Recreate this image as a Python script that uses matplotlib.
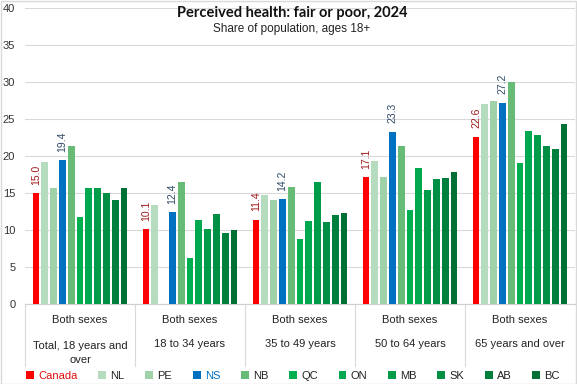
import numpy as np
import matplotlib
matplotlib.use("Agg")
import matplotlib.pyplot as plt
from matplotlib.patches import Rectangle

groups_top = ["Both sexes"] * 5
groups_age = ["Total, 18 years and\nover", "18 to 34 years", "35 to 49 years",
              "50 to 64 years", "65 years and over"]
series = ["Canada", "NL", "PE", "NS", "NB", "QC", "ON", "MB", "SK", "AB", "BC"]

canada = [15.0, 10.1, 11.4, 17.1, 22.6]
nl = [19.2, 13.4, 14.7, 19.3, 27.0]
pe = [15.7, np.nan, 14.1, 17.2, 27.4]
ns = [19.4, 12.4, 14.2, 23.3, 27.2]
nb = [21.4, 16.5, 15.8, 21.4, 30.0]
qc = [11.8, 6.2, 8.8, 12.7, 19.1]
on = [15.7, 11.4, 11.2, 18.4, 23.4]
mb = [15.7, 10.1, 16.5, 15.4, 22.8]
sk = [15.0, 12.2, 11.1, 16.9, 21.4]
ab = [14.1, 9.6, 12.0, 17.0, 21.0]
bc = [15.7, 10.0, 12.3, 17.8, 24.3]
values = [canada, nl, pe, ns, nb, qc, on, mb, sk, ab, bc]

colors = ["#FF0000", "#B5DCBF", "#9FD2A9", "#0070C0", "#66BB77", "#00B050",
          "#00A84F", "#009C4A", "#008F45", "#00803C", "#007034"]
labelled = {"Canada": "#A11B1B", "NS": "#2E4A66"}
legend_text_colors = {"Canada": "#E01010", "NS": "#0070C0"}

plt.rcParams['font.family'] = ['Liberation Sans', 'DejaVu Sans']

W, H = 577, 384
fig = plt.figure(figsize=(W / 100, H / 100), dpi=100)
ax = fig.add_axes([25 / W, (H - 304) / H, 550 / W, 296 / H])

n = len(series)
pitch = 0.08
bw = 0.061
xc = np.arange(len(groups_age)) + 0.5
for i, (name, vals, col) in enumerate(zip(series, values, colors)):
    xs = xc + (i - (n - 1) / 2) * pitch
    ax.bar(xs, vals, width=bw, color=col, label=name, zorder=3)
    if name in labelled:
        for x, v in zip(xs, vals):
            ax.annotate(f"{v:.1f}", (x, v), xytext=(0, 6), textcoords="offset points",
                        rotation=90, ha="center", va="bottom", fontsize=7.5,
                        color=labelled[name])

ax.set_xlim(0, len(groups_age))
ax.set_ylim(0, 40)
ax.set_yticks(range(0, 41, 5))
ax.tick_params(axis="y", length=0, pad=7, labelsize=8, colors="#333333")
ax.set_xticks([])
ax.yaxis.grid(True, color="#D9D9D9", linewidth=0.8, zorder=0)
for s in ["top", "right", "left"]:
    ax.spines[s].set_visible(False)
ax.spines["bottom"].set_color("#D0D0D0")

tr = ax.get_xaxis_transform()
for b in range(len(groups_age)):
    ax.plot([b, b], [0, -62 / 296], transform=tr, color="#D9D9D9", lw=0.8, clip_on=False)
for x, t, a in zip(xc, groups_top, groups_age):
    ax.text(x, -16 / 296, t, transform=tr, ha="center", va="center", fontsize=8, color="#222222")
    if "\n" in a:
        ax.text(x, -49 / 296, a, transform=tr, ha="center", va="center", fontsize=8,
                color="#222222", linespacing=1.6)
    else:
        ax.text(x, -40 / 296, a, transform=tr, ha="center", va="center", fontsize=8,
                color="#222222")

fig.text(0.506, 1 - 13 / H, "Perceived health: fair or poor, 2024", ha="center", va="center",
         fontsize=10.5, fontweight="bold", family=["Lato", "DejaVu Sans"],
         color="#111111")
fig.text(0.506, 1 - 29 / H, "Share of population, ages 18+", ha="center", va="center",
         fontsize=8.5, color="#222222")

leg = fig.legend(loc="center", bbox_to_anchor=(0.508, 1 - 376 / H), ncol=n, frameon=False,
                 fontsize=8, handlelength=0.7, handleheight=0.7, handletextpad=0.4,
                 columnspacing=1.85, borderpad=0)
for txt in leg.get_texts():
    txt.set_color(legend_text_colors.get(txt.get_text(), "#222222"))

fig.patches.append(Rectangle((0.5 / W, 0.5 / H), 1 - 1.5 / W, 1 - 1.5 / H, transform=fig.transFigure,
                             fill=False, edgecolor="#D9D9D9", lw=1))
fig.savefig("out.png", dpi=100)
